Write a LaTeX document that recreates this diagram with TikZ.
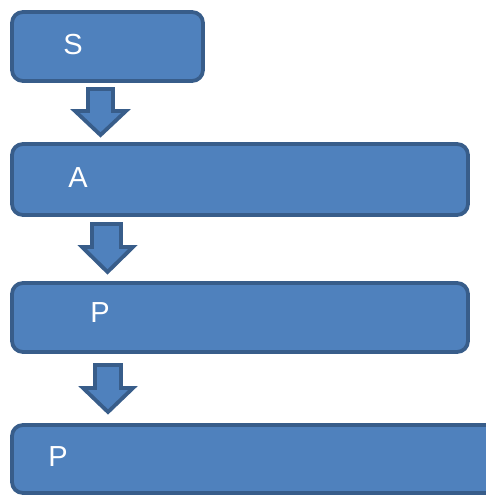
\documentclass[tikz,border=0pt]{standalone}
\usepackage{fontspec}
\setmainfont{Liberation Sans}
\begin{document}
\begin{tikzpicture}[x=1pt,y=-1pt,
  box/.style={draw=bord, fill=fillc, line width=3.8pt, rounded corners=11pt},
  blockarrow/.style={draw=bord, fill=fillc, line width=3.8pt, line join=miter},
  lbl/.style={text=white, font=\fontsize{29}{33}\selectfont, inner sep=0pt}]
\definecolor{fillc}{HTML}{4F81BD}
\definecolor{bord}{HTML}{385D8A}
\useasboundingbox (0,0) rectangle (486,497);
\begin{scope}
\clip (0,0) rectangle (486,497);
\draw[box] (12,12) rectangle (203,81);
\node[lbl] (s) at (73,45) {S};
\draw[blockarrow] (88,89) -- (113,89) -- (113,111) -- (126,111) -- (100.5,135) -- (75,111) -- (88,111) -- cycle;
\draw[box] (12,144) rectangle (468,215);
\node[lbl] (a) at (78,178) {A};
\draw[blockarrow] (92,224) -- (121,224) -- (121,247) -- (133,247) -- (107.5,272) -- (82,247) -- (92,247) -- cycle;
\draw[box] (12,283) rectangle (468,352);
\node[lbl] (p1) at (100,313) {P};
\draw[blockarrow] (95,365) -- (121,365) -- (121,388) -- (133,388) -- (108,412) -- (83,388) -- (95,388) -- cycle;
\draw[box] (12,425) rectangle (497,493);
\node[lbl] (p2) at (58,457) {P};
\end{scope}
\end{tikzpicture}
\end{document}
